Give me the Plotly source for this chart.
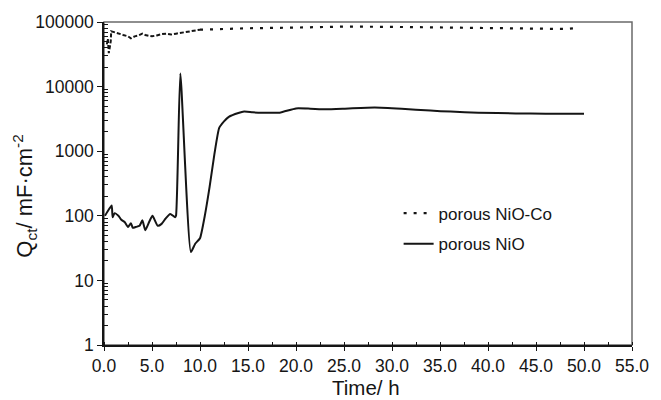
import plotly.graph_objects as go

# Time (h) and charge-transfer capacitance (mF·cm^-2) for porous NiO-Co
t_nioco = [0.3, 0.4, 0.5, 0.6, 0.7, 0.75, 1.0, 1.5, 2.0, 2.5, 2.8, 3.2, 3.6, 4.0,
           4.3, 4.7, 5.0, 5.5, 6.0, 6.5, 7.0, 7.5, 8.0, 8.5, 9.0, 9.5, 10.0,
           12.0, 15.0, 20.0, 25.0, 30.0, 35.0, 40.0, 45.0, 48.0, 49.5]
q_nioco = [45000, 55000, 33000, 40000, 50000, 72000, 70000, 65000, 63000, 60000,
           56000, 60000, 62000, 66000, 63000, 61000, 60000, 62000, 65000, 66000,
           64000, 66000, 68000, 70000, 72000, 74000, 76000,
           78000, 80000, 82000, 85000, 84000, 83000, 82000, 79000, 78000, 81000]

# Time (h) and charge-transfer capacitance (mF·cm^-2) for porous NiO
t_nio = [0.1, 0.5, 0.8, 0.9, 1.1, 1.5, 1.8, 2.15, 2.5, 2.8, 3.0, 3.3, 3.7, 4.0,
         4.3, 4.7, 5.05, 5.6, 6.0, 6.4, 6.9, 7.4, 7.5, 7.95, 9.05, 9.5, 10.0,
         10.5, 11.0, 11.5, 12.0, 12.5, 13.0, 14.0, 14.6, 15.5, 16.6, 18.3, 20.0,
         21.5, 23.1, 25.5, 28.2, 31.0, 34.0, 36.1, 39.0, 42.9, 46.0, 50.0]
q_nio = [100, 125, 145, 95, 110, 100, 87, 80, 67, 77, 65, 67, 70, 85,
         60, 80, 100, 70, 75, 90, 107, 95, 100, 16000, 27.5, 37, 45,
         100, 280, 900, 2300, 2900, 3400, 3900, 4100, 4000, 3950, 3950, 4600,
         4550, 4450, 4600, 4750, 4550, 4250, 4100, 3950, 3850, 3800, 3800]

x_ticks = [0, 5, 10, 15, 20, 25, 30, 35, 40, 45, 50, 55]
y_ticks = [1, 10, 100, 1000, 10000, 100000]
y_tick_text = ["1", "10", "100", "1000", "10000", "100000"]
y_minor = [m * d for d in [1, 10, 100, 1000, 10000] for m in range(2, 10)]

ink = "#151515"
font = "Liberation Sans, Arial, sans-serif"

# the first hours are densely sampled, so the dotted pattern is tighter there
split = 26
fig = go.Figure()
fig.add_trace(go.Scatter(
    x=t_nioco[:split + 1], y=q_nioco[:split + 1], mode="lines",
    line=dict(color=ink, width=2, dash="4px,2px"), showlegend=False,
    hoverinfo="skip"))
fig.add_trace(go.Scatter(
    x=t_nioco[split:], y=q_nioco[split:], mode="lines", name="porous NiO-Co",
    line=dict(color=ink, width=2.2, dash="3px,7px"), legend="legend"))
fig.add_trace(go.Scatter(
    x=t_nio, y=q_nio, mode="lines", name="porous NiO",
    line=dict(color=ink, width=2, shape="spline", smoothing=0.5),
    legend="legend2"))

legend_style = dict(font=dict(family=font, size=17, color=ink),
                    bgcolor="rgba(0,0,0,0)", xanchor="left", yanchor="middle",
                    itemwidth=30)

fig.update_layout(
    width=661, height=400,
    margin=dict(l=104, r=20, t=21, b=55),
    paper_bgcolor="white", plot_bgcolor="white",
    font=dict(family=font, size=17.5, color=ink),
    legend=dict(x=0.558, y=0.407, **legend_style),
    legend2=dict(x=0.558, y=0.312, **legend_style),
    xaxis=dict(
        range=[0, 55], tickvals=x_ticks, tickformat=".1f",
        showline=True, linecolor=ink, linewidth=1.5, showgrid=False,
        zeroline=False, ticks="outside", ticklen=4, tickwidth=1.3,
        tickcolor=ink, tickfont=dict(size=17.5),
        minor=dict(dtick=2.5, ticks="inside", ticklen=3, tickwidth=1,
                   tickcolor=ink, showgrid=False),
    ),
    yaxis=dict(
        type="log", range=[0, 5], tickvals=y_ticks, ticktext=y_tick_text,
        showline=True, linecolor=ink, linewidth=1.5, showgrid=False,
        zeroline=False, ticks="outside", ticklen=5, tickwidth=1.3,
        tickcolor=ink, tickfont=dict(size=17.5),
        minor=dict(tickvals=y_minor, ticks="inside", ticklen=4, tickwidth=1,
                   tickcolor=ink, showgrid=False),
    ),
    shapes=[dict(type="rect", xref="paper", yref="paper", x0=0, y0=0, x1=1,
                 y1=1, line=dict(color="#6a6a6a", width=1.5), layer="below")],
    annotations=[
        dict(text="Time/ h", xref="paper", yref="paper", x=0.496, y=-0.1695,
             xanchor="center", yanchor="bottom", showarrow=False,
             borderpad=0, font=dict(size=20.5, color=ink)),
        dict(text="Q<sub>ct</sub>/ mF·cm<sup>-2</sup>", xref="paper",
             yref="paper", x=-0.151, y=0.46, xanchor="center",
             yanchor="middle", textangle=-90, showarrow=False,
             font=dict(size=22, color=ink)),
    ],
)

fig.write_html("out.html")
